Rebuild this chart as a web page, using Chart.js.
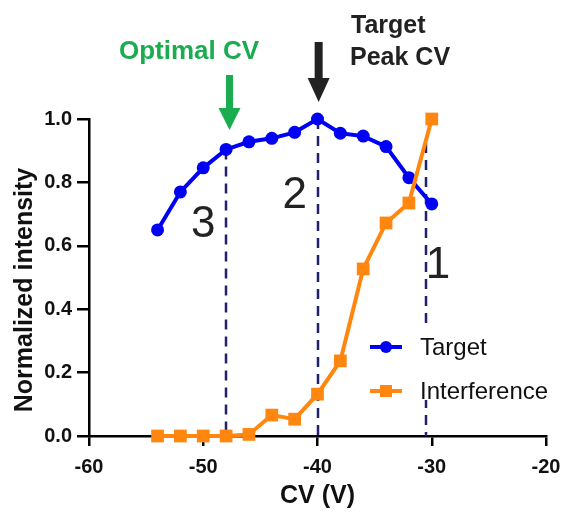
<!DOCTYPE html>
<html>
<head>
<meta charset="utf-8">
<script src="https://cdn.jsdelivr.net/npm/chart.js@4.4.1/dist/chart.umd.min.js"></script>
<style>
  html, body { margin: 0; padding: 0; background: #fff; }
  #wrap { width: 567px; height: 515px; }
</style>
</head>
<body>
<div id="wrap"><canvas id="cvChart" width="567" height="515"></canvas></div>
<script>
const cvValues = [-54, -52, -50, -48, -46, -44, -42, -40, -38, -36, -34, -32, -30]
const targetValues = [0.65, 0.77, 0.846, 0.904, 0.928, 0.939, 0.958, 1.0, 0.955, 0.946, 0.913, 0.815, 0.732]
const interferenceValues = [0, 0, 0, 0, 0.005, 0.066, 0.053, 0.132, 0.237, 0.527, 0.672, 0.735, 1.0]
const seriesLabels = ['Target', 'Interference']
const xTicks = [-60, -50, -40, -30, -20]
const yTicks = [0, 0.2, 0.4, 0.6, 0.8, 1.0]

// dashed guides: CV where each sits, the value where it starts, and its number
const guideCV = [-48, -40, -30.5]
const guideTop = [0.904, 1.0, 0.924]
const guideNumbers = ['3', '2', '1']
const numberCV = [-50.0, -42.0, -29.45]
const numberBaseline = [0.628, 0.719, 0.50]

const blue = '#0000f5'
const orange = '#ff860f'
const green = '#1aad50'
const font = "Arial, 'Liberation Sans', sans-serif"

function toPoints(values){
    return cvValues.map((cv, i) => ({x: cv, y: values[i]}))
}

function drawArrow(ctx, cx, top, tip, color, shaft, headW, headH){
    ctx.fillStyle = color
    ctx.fillRect(cx - shaft / 2, top, shaft, tip - headH - top + 1)
    ctx.beginPath()
    ctx.moveTo(cx - headW / 2, tip - headH)
    ctx.lineTo(cx + headW / 2, tip - headH)
    ctx.lineTo(cx, tip)
    ctx.closePath()
    ctx.fill()
}

const annotations = {
    id: 'annotations',
    beforeDatasetsDraw(chart){
        const {ctx, scales: {x, y}} = chart
        ctx.save()
        ctx.strokeStyle = '#22226c'
        ctx.lineWidth = 2.5
        ctx.setLineDash([10, 7])
        guideCV.forEach((cv, i) => {
            const px = Math.round(x.getPixelForValue(cv))
            ctx.beginPath()
            ctx.moveTo(px, y.getPixelForValue(guideTop[i]))
            ctx.lineTo(px, y.getPixelForValue(0))
            ctx.stroke()
        })
        // the legend sits on a white box that hides the guide behind it
        ctx.fillStyle = '#fff'
        ctx.fillRect(362, 329, 198, 71)
        ctx.restore()
    },
    afterDraw(chart){
        const {ctx, chartArea, scales: {x, y}} = chart
        const top = chartArea.top
        ctx.save()

        // y axis title
        ctx.save()
        ctx.translate(25, 290)
        ctx.rotate(-Math.PI / 2)
        ctx.font = `bold 25px ${font}`
        ctx.fillStyle = '#111'
        ctx.textAlign = 'center'
        ctx.textBaseline = 'middle'
        ctx.fillText('Normalized intensity', 0, 0)
        ctx.restore()

        // big guide numbers
        ctx.fillStyle = '#222'
        ctx.font = `44px ${font}`
        ctx.textAlign = 'center'
        ctx.textBaseline = 'alphabetic'
        guideNumbers.forEach((n, i) => {
            ctx.fillText(n, x.getPixelForValue(numberCV[i]), y.getPixelForValue(numberBaseline[i]))
        })

        // arrows and their captions
        drawArrow(ctx, x.getPixelForValue(-47.7), top - 44, top + 11, green, 7, 22, 22)
        drawArrow(ctx, x.getPixelForValue(-39.9), top - 77, top - 17, '#222', 8, 22, 24)

        ctx.font = `bold 26px ${font}`
        ctx.fillStyle = green
        ctx.textAlign = 'center'
        ctx.fillText('Optimal CV', 189, 59)

        ctx.font = `bold 25px ${font}`
        ctx.fillStyle = '#222'
        ctx.textAlign = 'left'
        ctx.fillText('Target', 351, 33)
        ctx.fillText('Peak CV', 350, 65)

        // legend
        const legendY = [347, 391]
        ctx.font = `24px ${font}`
        chart.data.datasets.forEach((ds, i) => {
            const ly = legendY[i]
            ctx.strokeStyle = ds.borderColor
            ctx.lineWidth = 4
            ctx.beginPath()
            ctx.moveTo(370, ly)
            ctx.lineTo(402, ly)
            ctx.stroke()
            ctx.fillStyle = ds.borderColor
            if (ds.pointStyle === 'rect') {
                ctx.fillRect(380, ly - 6, 12, 12)
            } else {
                ctx.beginPath()
                ctx.arc(386, ly, 6, 0, Math.PI * 2)
                ctx.fill()
            }
            ctx.fillStyle = '#111'
            ctx.textBaseline = 'middle'
            ctx.fillText(ds.label, 420, ly + 1)
        })
        ctx.restore()
    }
}

const axisStyle = {
    grid: {display: true, drawOnChartArea: false, drawTicks: true, color: '#000', lineWidth: 2.5},
    border: {display: true, color: '#000', width: 2.5},
}

new Chart(document.getElementById('cvChart').getContext('2d'), {
    type: 'line',
    data: {
        datasets: [{
            label: seriesLabels[0],
            data: toPoints(targetValues),
            borderColor: blue,
            backgroundColor: blue,
            borderWidth: 4,
            pointStyle: 'circle',
            pointRadius: 6.5,
            pointBorderWidth: 0,
            order: 1,
            clip: false
        }, {
            label: seriesLabels[1],
            data: toPoints(interferenceValues),
            borderColor: orange,
            backgroundColor: orange,
            borderWidth: 4,
            pointStyle: 'rect',
            pointRadius: 9,
            pointBorderWidth: 0,
            order: 0,
            clip: false
        }]
    },
    plugins: [annotations],
    options: {
        responsive: false,
        animation: false,
        devicePixelRatio: 1,
        layout: {padding: {top: 119, right: 21, left: 0, bottom: 0}},
        scales: {
            x: {
                type: 'linear',
                min: -60,
                max: -20,
                afterBuildTicks: s => { s.ticks = xTicks.map(v => ({value: v})) },
                afterFit: s => { s.height = 79; s.paddingLeft = 0; s.paddingRight = 0 },
                ticks: {color: '#111', font: {family: font, size: 20, weight: 'bold'}, padding: 9},
                grid: {...axisStyle.grid, tickLength: 10},
                border: axisStyle.border,
                title: {display: true, text: 'CV (V)', color: '#111', font: {family: font, size: 25, weight: 'bold'}, padding: {bottom: 4}}
            },
            y: {
                min: 0,
                max: 1,
                afterBuildTicks: s => { s.ticks = yTicks.map(v => ({value: v})) },
                afterFit: s => { s.width = 89 },
                ticks: {color: '#111', font: {family: font, size: 20, weight: 'bold'}, padding: 5, callback: v => v.toFixed(1)},
                grid: {...axisStyle.grid, tickLength: 12},
                border: axisStyle.border,
                title: {display: false}
            }
        },
        plugins: {
            legend: {display: false},
            tooltip: {enabled: false}
        }
    }
})
</script>
</body>
</html>
